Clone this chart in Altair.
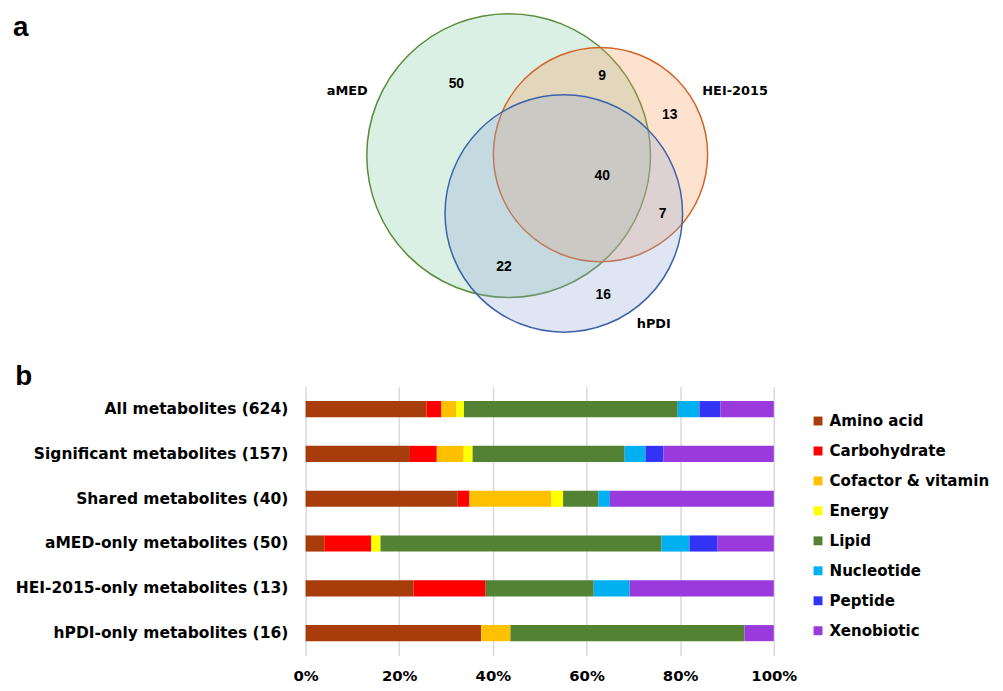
import altair as alt
import pandas as pd

# ---------------- data: panel b ----------------
rows = [
    "All metabolites (624)",
    "Significant metabolites (157)",
    "Shared metabolites (40)",
    "aMED-only metabolites (50)",
    "HEI-2015-only metabolites (13)",
    "hPDI-only metabolites (16)",
]
classes = ["Amino acid", "Carbohydrate", "Cofactor & vitamin", "Energy",
           "Lipid", "Nucleotide", "Peptide", "Xenobiotic"]
class_colors = ["#A83C0B", "#FF0000", "#FFC000", "#FFFF00",
                "#548235", "#00B0F0", "#3333F5", "#9A3ADC"]
amino = [161, 35, 13, 2, 3, 6]
carb = [20, 9, 1, 5, 2, 0]
cofactor = [20, 9, 7, 0, 0, 1]
energy = [10, 3, 1, 1, 0, 0]
lipid = [285, 51, 3, 30, 3, 8]
nucleotide = [29, 7, 1, 3, 1, 0]
peptide = [28, 6, 0, 3, 0, 0]
xenobiotic = [71, 37, 14, 6, 4, 1]
x_ticks = [0, 0.2, 0.4, 0.6, 0.8, 1.0]

# ---------------- data: panel a (Venn) ----------------
venn_sets = ["aMED", "HEI-2015", "hPDI"]
venn_cx = [510.7, 603.3, 566.3]
venn_cy = [152.0, 151.0, 210.3]
venn_r = [143.0, 108.0, 119.7]
venn_fill = ["#84CDA5", "#F5A060", "#94A8D6"]
venn_stroke = ["#5A8C3A", "#D2652A", "#3D62A8"]
set_label_x = [348, 739, 657]
set_label_y = [87, 87, 322]
region_counts = ["50", "9", "13", "40", "7", "22", "16"]
region_x = [458, 605, 673, 605, 666, 506, 606]
region_y = [80, 72, 111, 173, 211, 264, 293]

FONT = "Liberation Sans"
WIDE = "DejaVu Sans"

# ---------------- panel a ----------------
circ_df = pd.DataFrame({"set": venn_sets, "cx": venn_cx, "cy": venn_cy, "r": venn_r,
                        "k": [0, 1, 2]})
lab_df = pd.DataFrame({"t": venn_sets, "x": set_label_x, "y": set_label_y})
num_df = pd.DataFrame({"t": region_counts, "x": region_x, "y": region_y})
tag_df = pd.DataFrame({"t": ["a"], "x": [11], "y": [31]})

xs = alt.Scale(domain=[306, 786])
ys = alt.Scale(domain=[8, 348], reverse=True)

circles = alt.Chart(circ_df).mark_arc(
    theta=0, theta2=6.2832, fillOpacity=0.3, strokeWidth=1.5
).encode(
    x=alt.X("cx:Q", scale=xs, axis=None),
    y=alt.Y("cy:Q", scale=ys, axis=None),
    radius=alt.Radius("r:Q", stack=None,
                      scale=alt.Scale(type="linear", domain=[0, 100], range=[0, 100])),
    fill=alt.Fill("set:N", scale=alt.Scale(domain=venn_sets, range=venn_fill), legend=None),
    stroke=alt.Stroke("set:N", scale=alt.Scale(domain=venn_sets, range=venn_stroke), legend=None),
    order=alt.Order("k:Q"),
)

set_labels = alt.Chart(lab_df).mark_text(
    font=WIDE, fontSize=13, fontWeight="bold", color="black"
).encode(x=alt.X("x:Q", scale=xs, axis=None), y=alt.Y("y:Q", scale=ys, axis=None), text="t:N")

num_labels = alt.Chart(num_df).mark_text(
    font=FONT, fontSize=14, fontWeight="bold", color="black"
).encode(x=alt.X("x:Q", scale=xs, axis=None), y=alt.Y("y:Q", scale=ys, axis=None), text="t:N")

tag_a = alt.Chart(tag_df).mark_text(
    font=FONT, fontSize=28, fontWeight="bold", color="black", align="left",
    baseline="alphabetic"
).encode(x=alt.X("x:Q", scale=xs, axis=None), y=alt.Y("y:Q", scale=ys, axis=None), text="t:N")

venn = alt.layer(circles, set_labels, num_labels, tag_a).properties(width=480, height=340)

# ---------------- panel b ----------------
series = [amino, carb, cofactor, energy, lipid, nucleotide, peptide, xenobiotic]
recs = []
for ci, (cls, vals) in enumerate(zip(classes, series)):
    for ri, row in enumerate(rows):
        recs.append({"row": row, "cls": cls, "ci": ci, "n": vals[ri]})
bar_df = pd.DataFrame(recs)

bars = alt.Chart(bar_df).mark_bar().encode(
    x=alt.X("n:Q", stack="normalize", title=None,
            scale=alt.Scale(domain=[0, 1], nice=False),
            axis=alt.Axis(format=".0%", values=x_ticks, ticks=False, domain=False,
                          labelFlush=False,
                          labelFont=WIDE, labelFontSize=15, labelFontWeight="bold",
                          labelColor="black", labelPadding=13,
                          grid=True, gridColor="#D9D9D9", gridWidth=1.5)),
    y=alt.Y("row:N", sort=rows, title=None,
            scale=alt.Scale(paddingInner=0.64, paddingOuter=0.32),
            axis=alt.Axis(ticks=False, domain=False, labelFont=WIDE, labelFontSize=15.6,
                          labelFontWeight="bold", labelColor="black", labelPadding=18,
                          labelLimit=400)),
    color=alt.Color("cls:N", scale=alt.Scale(domain=classes, range=class_colors),
                    legend=alt.Legend(title=None, orient="none", legendX=509, legendY=404,
                                      symbolType="square", symbolSize=81, symbolStrokeWidth=0,
                                      labelFont=WIDE, labelFontSize=15.2, labelFontWeight="bold",
                                      labelColor="black", labelOffset=4, rowPadding=14.2,
                                      labelLimit=300)),
    order=alt.Order("ci:Q"),
).properties(
    width=472, height=271,
    title=alt.TitleParams("b", anchor="start", frame="bounds", fontSize=28,
                          fontWeight="bold", font=FONT, color="black", offset=-4),
)

chart = alt.vconcat(venn, bars, spacing=13).properties(
    padding={"left": 5, "top": 0, "right": 5, "bottom": 5}
).configure(
    font=FONT, view=alt.ViewConfig(strokeWidth=0, stroke="transparent")
)

chart.save("out.html", embed_options={"renderer": "svg", "actions": False})
